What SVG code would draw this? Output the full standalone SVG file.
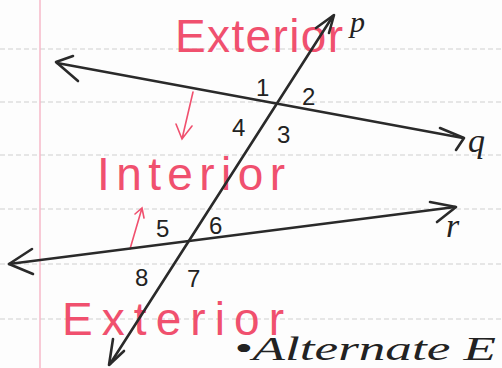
<svg xmlns="http://www.w3.org/2000/svg" width="502" height="368" viewBox="0 0 502 368">
<style>
.rule{stroke:#cfcfcf;stroke-width:1;stroke-dasharray:5 3}
.ln{stroke:#2a2a2a;stroke-width:2.6;fill:none;stroke-linecap:round;stroke-linejoin:round}
.red{fill:#f0506e;font-family:"Liberation Sans",sans-serif;font-size:46px}
.redln{stroke:#f0506e;stroke-width:1.6;fill:none;stroke-linecap:round}
.num{fill:#222;font-family:"Liberation Sans",sans-serif;font-size:24px}
.lbl{fill:#222;font-family:"Liberation Serif",serif;font-style:italic}
</style>
<rect width="502" height="368" fill="#fdfdfd"/>
<g id="paper">
<line class="rule" x1="0" y1="49" x2="502" y2="49"/>
<line class="rule" x1="0" y1="102" x2="502" y2="102"/>
<line class="rule" x1="0" y1="155" x2="502" y2="155"/>
<line class="rule" x1="0" y1="209" x2="502" y2="209"/>
<line class="rule" x1="0" y1="264" x2="502" y2="264"/>
<line class="rule" x1="0" y1="319" x2="502" y2="319"/>
<line x1="40" y1="0" x2="40" y2="368" stroke="#f6b9c9" stroke-width="1.5"/>
</g>
<g id="regions">
<text class="red" x="175" y="52" textLength="168" lengthAdjust="spacing">Exterior</text>
<text class="red" x="97" y="190" textLength="188" lengthAdjust="spacing">Interior</text>
<text class="red" x="62" y="335" textLength="222" lengthAdjust="spacing">Exterior</text>
<path class="redln" d="M193,92 L182,139 M176,124 L182,139 L192,126"/>
<path class="redln" d="M130,249 L142,208 M135,214 L142,208 L144,218"/>
</g>
<g id="connectors">
<g id="line-q">
<path class="ln" d="M57,63 L463,138"/>
<path class="ln" d="M73,56 L56,62 L78,81"/>
<path class="ln" d="M440,128 L464,138 L456,150"/>
</g>
<g id="line-r">
<path class="ln" d="M9,264 L455,207"/>
<path class="ln" d="M32,249 L9,264 L33,274"/>
<path class="ln" d="M430,202 L456,207 L437,222"/>
</g>
<g id="line-p">
<path class="ln" d="M333,16 L110,364"/>
<path class="ln" d="M316,28 L334,15 L329,33"/>
<path class="ln" d="M113,339 L109,365 L124,351"/>
</g>
</g>
<g id="labels">
<text class="lbl" x="350" y="32" font-size="30">p</text>
<text class="lbl" x="468" y="152" font-size="34">q</text>
<text class="lbl" x="446" y="237" font-size="34">r</text>
<text class="num" x="256" y="96">1</text>
<text class="num" x="302" y="105">2</text>
<text class="num" x="232" y="136">4</text>
<text class="num" x="277" y="143">3</text>
<text class="num" x="156" y="237">5</text>
<text class="num" x="209" y="234">6</text>
<text class="num" x="135" y="286">8</text>
<text class="num" x="187" y="287">7</text>
</g>
<text x="234" y="360" fill="#222" font-family="Liberation Serif,serif" font-style="italic" font-size="34" textLength="262" lengthAdjust="spacingAndGlyphs">•Alternate E</text>
</svg>
